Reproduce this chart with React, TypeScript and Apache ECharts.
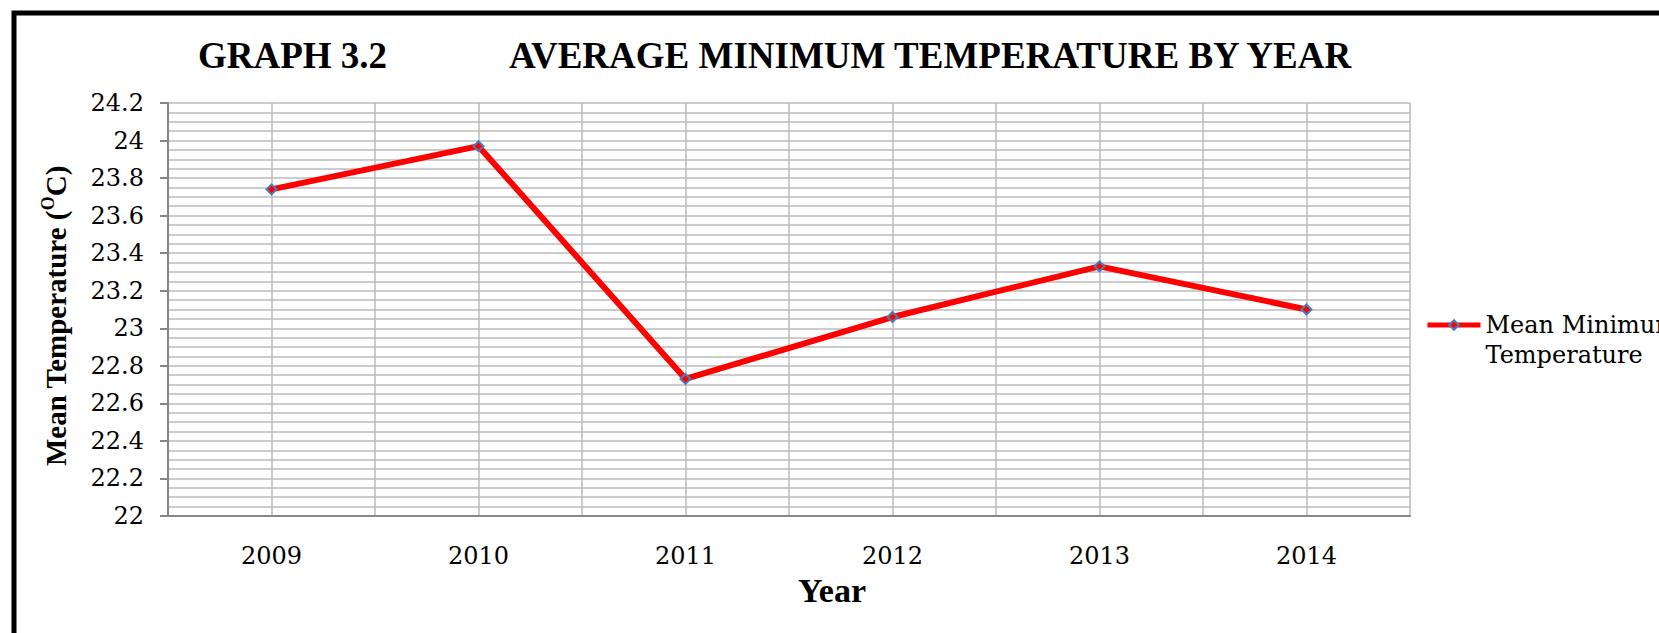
import { useEffect, useRef } from "react";
import * as echarts from "echarts";

const years = ["2009", "2010", "2011", "2012", "2013", "2014"];
const meanMinTemp = [23.74, 23.97, 22.73, 23.06, 23.33, 23.1];
const seriesName = "Mean Minimum\nTemperature";
const titleLeft = "GRAPH 3.2";
const titleRight = "AVERAGE MINIMUM TEMPERATURE BY YEAR";
const xAxisName = "Year";
const yAxisMin = 22;
const yAxisMax = 24.2;
const yAxisStep = 0.2;

const SERIF = "'DejaVu Serif', serif";
const SERIF_BOLD = "'Liberation Serif', 'Times New Roman', serif";
const GRID = "#bbbbbb";
const AXIS = "#868686";

export default function App() {
  const ref = useRef<HTMLDivElement>(null);
  useEffect(() => {
    if (!ref.current) return;
    const chart = echarts.init(ref.current, undefined, { renderer: "svg" });
    chart.setOption({
      animation: false,
      backgroundColor: "#ffffff",
      grid: { left: 168, top: 103, right: 249, bottom: 117 },
      graphic: [
        {
          type: "rect",
          shape: { x: 14, y: 13, width: 1800, height: 800 },
          style: { fill: "none", stroke: "#000", lineWidth: 5 },
          z: 100,
        },
        {
          type: "text",
          x: 198,
          y: 55,
          style: {
            text: titleLeft,
            font: `bold 37px ${SERIF_BOLD}`,
            fill: "#000",
            align: "left",
            verticalAlign: "middle",
          },
        },
        {
          type: "text",
          x: 509,
          y: 55,
          style: {
            text: titleRight,
            font: `bold 37px ${SERIF_BOLD}`,
            fill: "#000",
            align: "left",
            verticalAlign: "middle",
          },
        },
        {
          type: "text",
          x: 832,
          y: 590,
          style: {
            text: xAxisName,
            font: `bold 34px ${SERIF_BOLD}`,
            fill: "#000",
            align: "center",
            verticalAlign: "middle",
          },
        },
        {
          type: "text",
          x: 56,
          y: 316,
          rotation: Math.PI / 2,
          style: {
            text: "{a|Mean Temperature (}{s|O}{a|C)}",
            fill: "#000",
            align: "center",
            verticalAlign: "middle",
            rich: {
              a: { fontFamily: SERIF_BOLD, fontWeight: "bold", fontSize: 29, lineHeight: 34, fill: "#000" },
              s: { fontFamily: SERIF_BOLD, fontWeight: "bold", fontSize: 18, lineHeight: 34, verticalAlign: "top", padding: [0, 0, 14, 0], fill: "#000" },
            },
          },
        },
      ],
      legend: {
        left: 1425,
        top: 280,
        padding: 0,
        itemWidth: 53,
        itemHeight: 12,
        data: [seriesName],
        formatter: (name: string) => "\n" + name,
        lineStyle: { width: 5, color: "#ff0000" },
        textStyle: {
          fontFamily: SERIF,
          fontSize: 24,
          lineHeight: 30,
          color: "#000",
        },
      },
      xAxis: [
        {
          type: "category",
          data: years,
          boundaryGap: true,
          axisLine: { show: true, lineStyle: { color: AXIS, width: 2 } },
          axisTick: { show: false },
          splitLine: { show: false },
          axisLabel: {
            fontFamily: SERIF,
            fontSize: 24,
            color: "#000",
            margin: 40,
            verticalAlign: "middle",
          },
        },
        {
          type: "value",
          min: 0,
          max: 12,
          interval: 1,
          position: "bottom",
          axisLine: { show: false },
          axisTick: { show: false },
          axisLabel: { show: false },
          splitLine: { show: true, lineStyle: { color: GRID, width: 1.5 } },
        },
      ],
      yAxis: {
        type: "value",
        min: yAxisMin,
        max: yAxisMax,
        interval: yAxisStep,
        axisLine: { show: true, lineStyle: { color: AXIS, width: 2 } },
        axisTick: { show: true, length: 8, lineStyle: { color: AXIS, width: 2 } },
        axisLabel: {
          fontFamily: SERIF,
          fontSize: 24,
          color: "#000",
          margin: 24,
          formatter: (v: number) => String(Math.round(v * 10) / 10),
        },
        splitLine: { show: true, lineStyle: { color: GRID, width: 1.5 } },
        minorTick: { show: false, splitNumber: 4 },
        minorSplitLine: { show: true, lineStyle: { color: GRID, width: 1.5 } },
      },
      series: [
        {
          name: seriesName,
          type: "line",
          xAxisIndex: 0,
          data: meanMinTemp,
          symbol: "diamond",
          symbolSize: 10,
          showAllSymbol: true,
          lineStyle: { color: "#ff0000", width: 6 },
          itemStyle: { color: "#ff0000", borderColor: "#4a7ebb", borderWidth: 2 },
          z: 10,
        },
      ],
    });
    return () => chart.dispose();
  }, []);
  return (
    <div
      ref={ref}
      style={{ position: "fixed", left: 0, top: 0, width: 1659, height: 633 }}
    />
  );
}
